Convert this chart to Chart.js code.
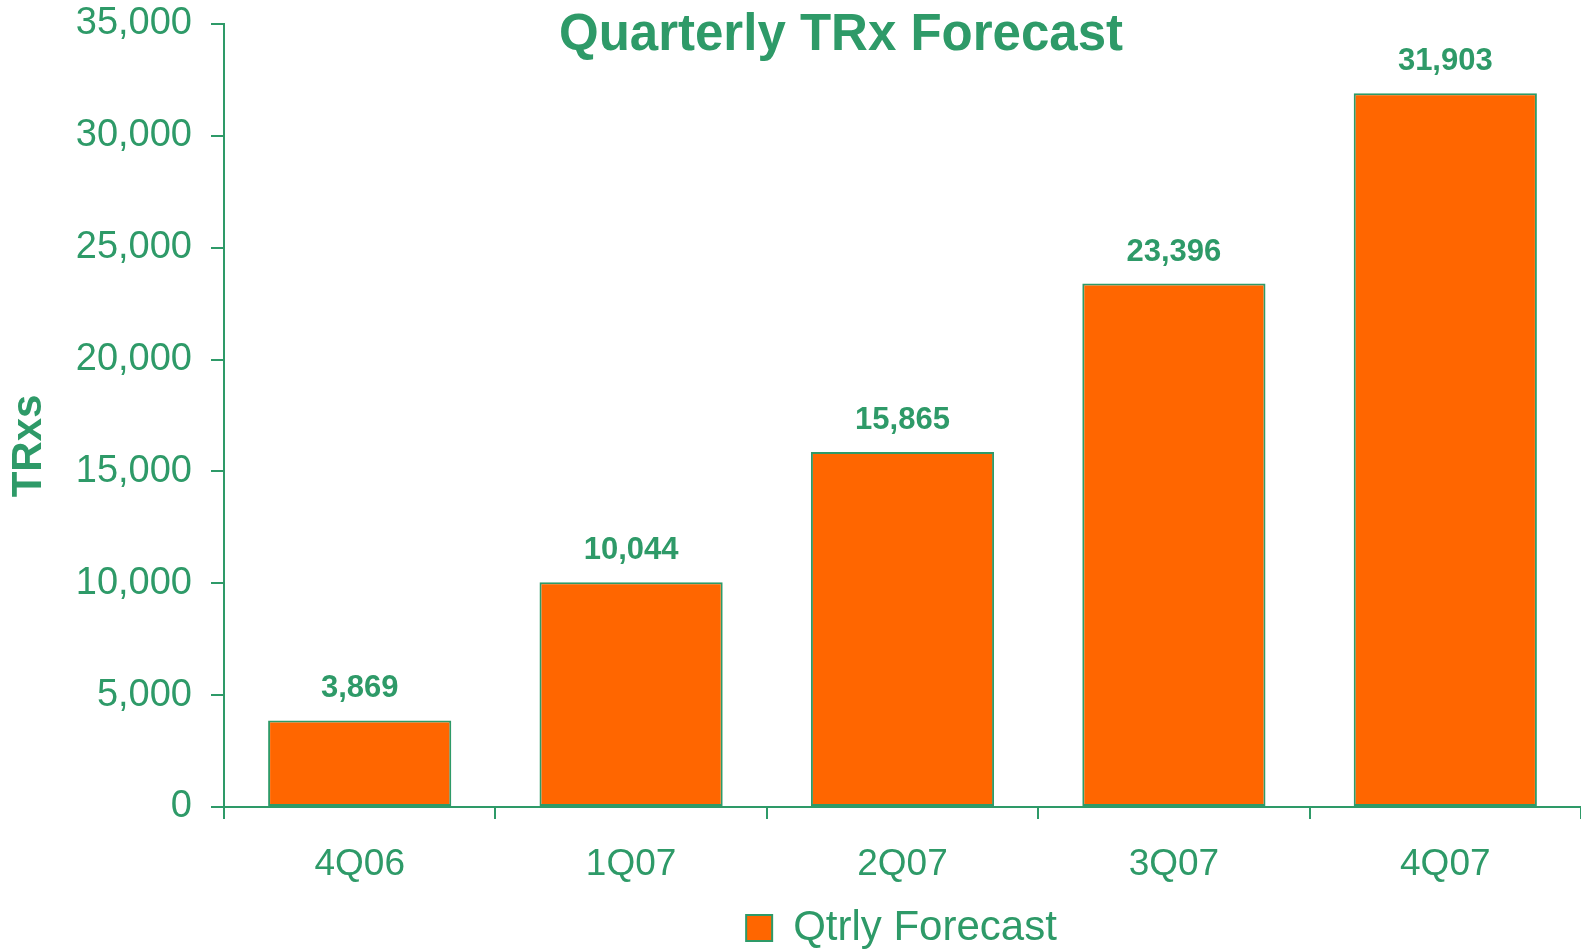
<!DOCTYPE html>
<html>
<head>
<meta charset="utf-8">
<title>Quarterly TRx Forecast</title>
<script src="https://cdn.jsdelivr.net/npm/chart.js@4.4.1/dist/chart.umd.min.js"></script>
<style>
  html, body { margin: 0; padding: 0; background: #ffffff; }
  #wrap { width: 1581px; height: 949px; }
</style>
</head>
<body>
<div id="wrap"><canvas id="chart" width="1581" height="949"></canvas></div>
<script>
// Data
const quarters = ['4Q06', '1Q07', '2Q07', '3Q07', '4Q07'];
const qtrlyForecast = [3869, 10044, 15865, 23396, 31903];
const seriesName = 'Qtrly Forecast';
const chartTitle = 'Quarterly TRx Forecast';
const yAxisTitle = 'TRxs';
const yMin = 0, yMax = 35000, yStep = 5000;

const GREEN = '#2e9a68';
const ORANGE = '#ff6600';
const FONT = '"Liberation Sans", Arial, sans-serif';
const fmt = v => Number(v).toLocaleString('en-US');

// Title, rotated axis title and value labels drawn on top of the plot
const annotations = {
  id: 'annotations',
  afterLayout(chart) {
    // centre the legend under the plot area rather than the whole canvas
    const lg = chart.legend;
    const shift = 111;
    lg.left += shift;
    lg.right += shift;
  },
  afterDatasetsDraw(chart) {
    const ctx = chart.ctx;
    const meta = chart.getDatasetMeta(0);
    ctx.save();
    ctx.fillStyle = GREEN;
    ctx.font = 'bold 31px ' + FONT;
    ctx.textAlign = 'center';
    ctx.textBaseline = 'alphabetic';
    meta.data.forEach((bar, i) => {
      ctx.fillText(fmt(qtrlyForecast[i]), bar.x, bar.y - 23);
    });
    ctx.restore();
  },
  afterDraw(chart) {
    const ctx = chart.ctx;
    ctx.save();
    ctx.fillStyle = GREEN;
    ctx.font = 'bold 51px ' + FONT;
    ctx.textAlign = 'center';
    ctx.textBaseline = 'alphabetic';
    ctx.fillText(chartTitle, 841, 50);

    ctx.translate(29, 446);
    ctx.rotate(-Math.PI / 2);
    ctx.font = 'bold 42px ' + FONT;
    ctx.textBaseline = 'middle';
    ctx.fillText(yAxisTitle, 0, 0);
    ctx.restore();
  }
};

new Chart(document.getElementById('chart'), {
  type: 'bar',
  data: {
    labels: quarters,
    datasets: [{
      label: seriesName,
      data: qtrlyForecast,
      backgroundColor: ORANGE,
      borderColor: GREEN,
      borderWidth: 2,
      borderSkipped: false,
      categoryPercentage: 1.0,
      barPercentage: 0.675
    }]
  },
  options: {
    responsive: false,
    animation: false,
    devicePixelRatio: 1,
    layout: { padding: { top: 24, right: 0, bottom: -10, left: 0 } },
    plugins: {
      title: { display: false },
      tooltip: { enabled: false },
      legend: {
        display: true,
        position: 'bottom',
        labels: {
          color: GREEN,
          font: { family: FONT, size: 42 },
          boxWidth: 26,
          boxHeight: 26,
          padding: 10
        }
      }
    },
    scales: {
      x: {
        grid: {
          display: true,
          drawOnChartArea: false,
          drawTicks: true,
          tickLength: 12,
          color: GREEN,
          lineWidth: 2,
          offset: true
        },
        border: { display: true, color: GREEN, width: 2 },
        ticks: {
          color: GREEN,
          font: { family: FONT, size: 37 },
          padding: 24,
          maxRotation: 0,
          autoSkip: false
        },
        afterFit(scale) { scale.height = 90; }
      },
      y: {
        min: yMin,
        max: yMax,
        grid: {
          display: true,
          drawOnChartArea: false,
          drawTicks: true,
          tickLength: 13,
          color: GREEN,
          lineWidth: 2
        },
        border: { display: true, color: GREEN, width: 2 },
        ticks: {
          stepSize: yStep,
          color: GREEN,
          font: { family: FONT, size: 38 },
          padding: 19,
          callback: v => fmt(v)
        },
        afterFit(scale) {
          scale.width = 224;
          scale.paddingTop = 0;
          scale.paddingBottom = 0;
        }
      }
    }
  },
  plugins: [annotations]
});
</script>
</body>
</html>
